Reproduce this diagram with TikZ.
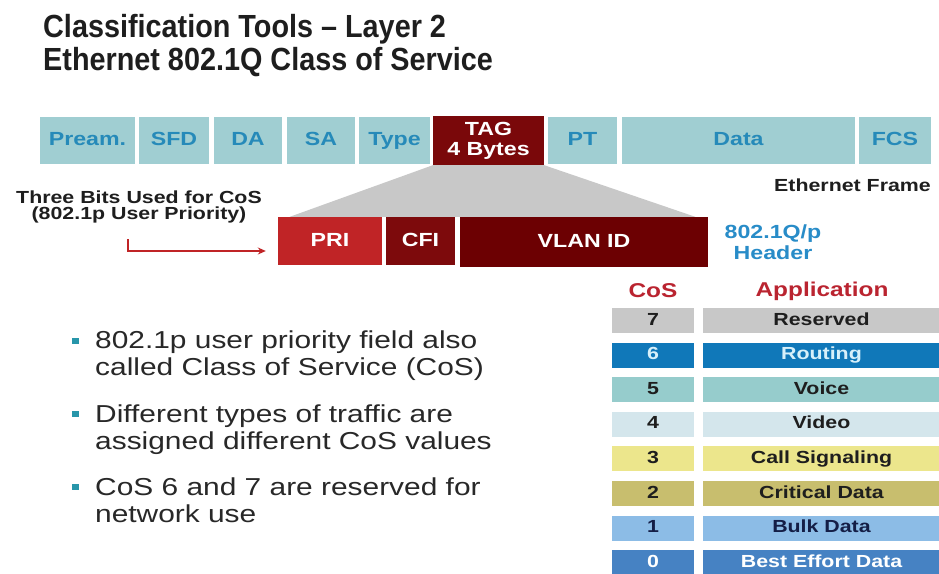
\documentclass[tikz,border=0pt]{standalone}
\usepackage{fontspec}
\setmainfont{Liberation Sans}[FakeStretch=1.22]
\newfontfamily\titlesans{Liberation Sans}[FakeStretch=0.9]
\usetikzlibrary{arrows.meta,calc}

% palette
\definecolor{frameFill}{RGB}{160,206,210}
\definecolor{frameText}{RGB}{38,138,185}
\definecolor{tagRed}{RGB}{122,8,10}
\definecolor{priRed}{RGB}{192,36,38}
\definecolor{cfiRed}{RGB}{125,10,12}
\definecolor{vlanRed}{RGB}{108,0,2}
\definecolor{wedgeGray}{RGB}{200,200,200}
\definecolor{hdrBlue}{RGB}{40,140,200}
\definecolor{headRed}{RGB}{186,36,48}
\definecolor{bodyText}{RGB}{40,40,40}
\definecolor{bulletTeal}{RGB}{40,150,170}
\definecolor{rowSeven}{RGB}{200,200,200}
\definecolor{rowSix}{RGB}{16,120,185}
\definecolor{rowFive}{RGB}{150,204,204}
\definecolor{rowFour}{RGB}{212,230,236}
\definecolor{rowThree}{RGB}{236,230,140}
\definecolor{rowTwo}{RGB}{200,190,110}
\definecolor{rowOne}{RGB}{140,188,230}
\definecolor{rowZero}{RGB}{70,130,195}
\definecolor{darkTxt}{RGB}{30,30,30}
\definecolor{navyTxt}{RGB}{20,30,70}
\definecolor{paleTxt}{RGB}{215,240,250}

\begin{document}
\begin{tikzpicture}[x=1pt,y=-1pt,
  fbox/.style={fill=frameFill,text=frameText,inner sep=0pt,minimum height=47,
    font=\fontsize{19}{21}\selectfont\bfseries,text height=13.5pt,text depth=3.5pt},
  redbox/.style={inner sep=0pt,minimum height=48,text=white,
    font=\fontsize{19}{21}\selectfont\bfseries,text height=13.5pt,text depth=3.5pt},
  cell/.style={inner sep=0pt,minimum height=25,
    font=\fontsize{17.5}{19}\selectfont\bfseries,text height=12.5pt,text depth=3.5pt},
  bullettext/.style={anchor=base west,inner sep=0pt,align=left,text=bodyText,
    font=\fontsize{24.5}{26.5}\selectfont},
  bulletmark/.style={fill=bulletTeal,inner sep=0pt,minimum width=7,minimum height=6}
]
\useasboundingbox[fill=white] (0,0) rectangle (939,573);

% title (base anchor of a two-line node sits on its last line)
\node[anchor=base west,inner sep=0pt,align=left,text=darkTxt,
      font=\titlesans\fontsize{32}{33}\selectfont\bfseries] (title) at (43,70)
  {Classification Tools – Layer 2\\Ethernet 802.1Q Class of Service};

% Ethernet frame fields
\node[fbox,minimum width=95] (pream) at (87.5,140.5) {Pream.};
\node[fbox,minimum width=70] (sfd)   at (174,140.5) {SFD};
\node[fbox,minimum width=68] (da)    at (248,140.5) {DA};
\node[fbox,minimum width=68] (sa)    at (321,140.5) {SA};
\node[fbox,minimum width=71] (type)  at (394.5,140.5) {Type};
\node[fill=tagRed,text=white,inner sep=0pt,minimum width=111,minimum height=49,
      align=center,font=\fontsize{19}{20}\selectfont\bfseries] (tag) at (488.5,140.5) {TAG\\4 Bytes};
\node[fbox,minimum width=69] (pt)    at (582.5,140.5) {PT};
\node[fbox,minimum width=233] (data) at (738.5,140.5) {Data};
\node[fbox,minimum width=72] (fcs)   at (895,140.5) {FCS};

\node[anchor=east,inner sep=0pt,text=darkTxt,
      font=\fontsize{17.5}{19}\selectfont\bfseries] (ethframe) at (931,185) {Ethernet Frame};

% 802.1Q/p tag fields
\node[redbox,fill=priRed,minimum width=104] (pri)  at (330,241) {PRI};
\node[redbox,fill=cfiRed,minimum width=69]  (cfi)  at (420.5,241) {CFI};
\node[redbox,fill=vlanRed,minimum width=248,minimum height=50] (vlan) at (584,242) {VLAN ID};

% expansion wedge from the TAG field
\fill[wedgeGray] (tag.south west) -- (tag.south east)
  -- ($(vlan.north east)+(-13,0)$) -- ($(pri.north west)+(12,0)$) -- cycle;

\node[align=center,inner sep=0pt,text=hdrBlue,
      font=\fontsize{19}{21}\selectfont\bfseries] (qhdr) at (773,242) {802.1Q/p\\Header};

% priority bits annotation
\node[align=center,inner sep=0pt,text=darkTxt,
      font=\fontsize{17.5}{16}\selectfont\bfseries] (bits) at (139,207)
  {Three Bits Used for CoS\\(802.1p User Priority)};
\coordinate (bitsfoot) at (128,239);
\draw[priRed,line width=2pt,-{Stealth[length=8pt,width=7pt]}]
  (bitsfoot) |- ($(pri.west)+(-12,10)$);

% CoS table
\node[text=headRed,inner sep=0pt,font=\fontsize{20}{22}\selectfont\bfseries] (coshead) at (653,291) {CoS};
\node[text=headRed,inner sep=0pt,font=\fontsize{20}{22}\selectfont\bfseries] (apphead) at (822,291) {Application};

\foreach \n/\app/\fc/\tc [count=\k from 0] in {
    7/Reserved/rowSeven/darkTxt,
    6/Routing/rowSix/paleTxt,
    5/Voice/rowFive/darkTxt,
    4/Video/rowFour/darkTxt,
    3/Call Signaling/rowThree/darkTxt,
    2/Critical Data/rowTwo/darkTxt,
    1/Bulk Data/rowOne/navyTxt,
    0/Best Effort Data/rowZero/white} {
  \node[cell,fill=\fc,text=\tc,minimum width=82]  (cos\n) at (653,320.5+34.6*\k) {\n};
  \node[cell,fill=\fc,text=\tc,minimum width=237] (app\n) at (821.5,320.5+34.6*\k) {\app};
}

% bullet list (anchored on each item's second line)
\node[bullettext] (b1) at (95,375) {802.1p user priority field also\\called Class of Service (CoS)};
\node[bullettext] (b2) at (95,449) {Different types of traffic are\\assigned different CoS values};
\node[bullettext] (b3) at (95,522) {CoS 6 and 7 are reserved for\\network use};
\node[bulletmark] (m1) at (75.5,340.5) {};
\node[bulletmark] (m2) at (75.5,413.5) {};
\node[bulletmark] (m3) at (75.5,486.5) {};
\end{tikzpicture}
\end{document}
